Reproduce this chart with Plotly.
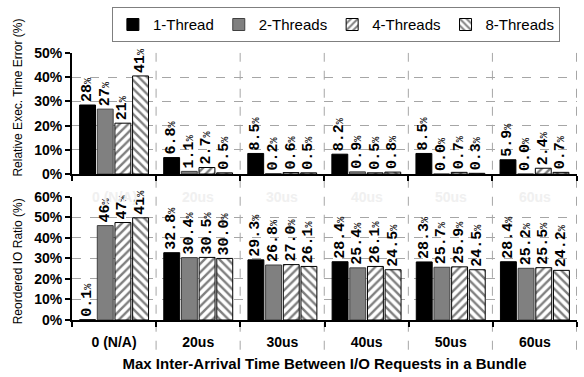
import plotly.graph_objects as go

categories = ["0 (N/A)", "20us", "30us", "40us", "50us", "60us"]
series_names = ["1-Thread", "2-Threads", "4-Threads", "8-Threads"]

# Top panel: relative execution time error (%)
err_values = [
    [28.5, 6.8, 8.5, 8.2, 8.5, 5.9],
    [26.8, 1.1, 0.2, 0.9, 0.0, 0.0],
    [21.0, 2.7, 0.6, 0.5, 0.7, 2.4],
    [40.5, 0.5, 0.5, 0.8, 0.3, 0.7],
]
err_labels = [
    ["28", "6.8", "8.5", "8.2", "8.5", "5.9"],
    ["27", "1.1", "0.2", "0.9", "0.0", "0.0"],
    ["21", "2.7", "0.6", "0.5", "0.7", "2.4"],
    ["41", "0.5", "0.5", "0.8", "0.3", "0.7"],
]

# Bottom panel: reordered IO ratio (%)
reo_values = [
    [0.1, 32.8, 29.3, 28.4, 28.3, 28.4],
    [46.0, 30.4, 26.8, 25.4, 25.7, 25.2],
    [47.5, 30.5, 27.0, 26.1, 25.9, 25.5],
    [49.8, 30.0, 26.1, 24.5, 24.5, 24.2],
]
reo_labels = [
    ["0.1", "32.8", "29.3", "28.4", "28.3", "28.4"],
    ["46", "30.4", "26.8", "25.4", "25.7", "25.2"],
    ["47", "30.5", "27.0", "26.1", "25.9", "25.5"],
    ["41", "30.0", "26.1", "24.5", "24.5", "24.2"],
]

fills = ["#000000", "#808080", "#ffffff", "#ffffff"]
lines = ["#000000", "#404040", "#000000", "#000000"]
patterns = ["", "", "/", "\\"]

def fmt(s):
    return s + "<span style='font-size:10px;font-weight:normal'>%</span>"

fig = go.Figure()
for panel, (vals, labs, ya) in enumerate([(err_values, err_labels, "y"), (reo_values, reo_labels, "y2")]):
    for i, name in enumerate(series_names):
        marker = dict(color=fills[i], line=dict(color=lines[i], width=1))
        if patterns[i]:
            marker["pattern"] = dict(shape=patterns[i], fgcolor="#000000", bgcolor="#ffffff",
                                     size=6, solidity=0.4, fillmode="overlay")
        fig.add_trace(go.Bar(
            x=categories, y=vals[i], name=name, marker=marker,
            text=[fmt(t) for t in labs[i]], textposition="outside", textangle=-90,
            textfont=dict(family="Liberation Mono", size=15, color="#000000", weight="bold"),
            constraintext="none", cliponaxis=False,
            xaxis="x" if ya == "y" else "x2", yaxis=ya,
            showlegend=(panel == 0), legendgroup=name,
        ))

axis_font = dict(family="Liberation Sans", size=14, color="#000000", weight="bold")
common_y = dict(dtick=10, ticksuffix="%", showgrid=True, gridcolor="#a6a6a6", griddash="dash",
                gridwidth=1, showline=True, linecolor="#000000", linewidth=2, ticks="outside",
                ticklen=5, tickwidth=2, tickcolor="#000000", tickfont=axis_font, zeroline=False)
common_x = dict(type="category", tickson="boundaries", showgrid=False, showline=True,
                linecolor="#000000", linewidth=2, ticks="outside", ticklen=5, tickwidth=2,
                tickcolor="#000000")

fig.update_layout(
    width=584, height=377,
    margin=dict(l=72, r=7, t=40, b=57),
    paper_bgcolor="#ffffff", plot_bgcolor="#ffffff",
    barmode="group", bargap=0.16, bargroupgap=0.1,
    xaxis=dict(**common_x, domain=[0, 1], anchor="y", showticklabels=False),
    xaxis2=dict(**common_x, domain=[0, 1], anchor="y2", showticklabels=True,
                ticklabelstandoff=8,
                tickfont=dict(family="Liberation Sans", size=14, color="#000000", weight="bold"),
                title=dict(text="<b>Max Inter-Arrival Time Between I/O Requests in a Bundle</b>",
                           font=dict(family="Liberation Sans", size=15, color="#000000"), standoff=10)),
    yaxis=dict(**common_y, range=[0, 50], domain=[0.525, 0.9607], anchor="x"),
    yaxis2=dict(**common_y, range=[0, 60], domain=[0, 0.4429], anchor="x2"),
    legend=dict(orientation="h", x=0.079, y=1.125, xanchor="left", yanchor="top",
                bordercolor="#7f7f7f", borderwidth=1, bgcolor="#ffffff",
                font=dict(family="Liberation Sans", size=15, color="#000000"),
                itemwidth=30, traceorder="normal"),
    font=dict(family="Liberation Sans"),
)

# y-axis titles (placed to match the reference)
fig.add_annotation(x=-0.107, y=0.80, xref="paper", yref="paper", text="Relative Exec. Time Error (%)",
                   textangle=-90, showarrow=False, xanchor="center", yanchor="middle",
                   font=dict(family="Liberation Sans", size=12, color="#000000"))
fig.add_annotation(x=-0.107, y=0.211, xref="paper", yref="paper", text="Reordered IO Ratio (%)",
                   textangle=-90, showarrow=False, xanchor="center", yanchor="middle",
                   font=dict(family="Liberation Sans", size=12, color="#000000"))

# vertical dashed separators between groups, spanning both panels
for k in range(1, len(categories) + 1):
    fig.add_shape(type="line", xref="x", yref="paper", x0=k - 0.5, x1=k - 0.5,
                  y0=-0.107, y1=0.9607, line=dict(color="#a6a6a6", width=1, dash="dash"),
                  layer="below")

# faint watermark category labels at top of lower panel
for c in categories:
    fig.add_annotation(x=c, y=60, xref="x2", yref="y2", text="<b>" + c + "</b>",
                       showarrow=False, font=dict(family="Liberation Sans", size=14, color="#f0f0f0"))

fig.write_html("out.html")
